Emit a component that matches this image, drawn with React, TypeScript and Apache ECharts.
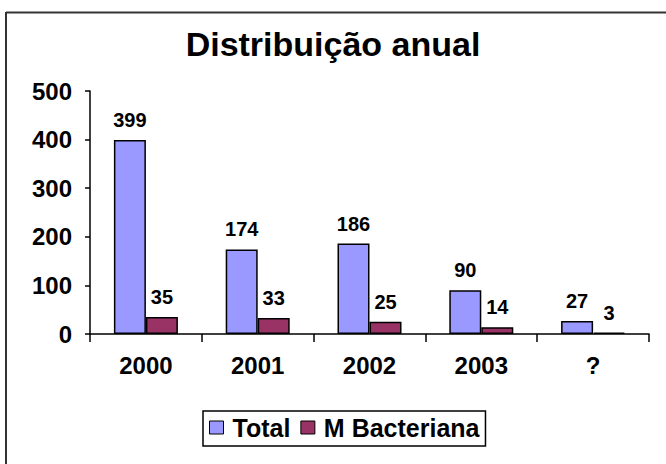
import React, { useEffect, useRef } from "react";
import * as echarts from "echarts";

const categories = ["2000", "2001", "2002", "2003", "?"];
const totalValues = [399, 174, 186, 90, 27];
const bacterianaValues = [35, 33, 25, 14, 3];
const seriesNames = ["Total", "M Bacteriana"];
const titleText = "Distribuição anual";

const FONT = "'Liberation Sans', Arial, sans-serif";

export default function App() {
  const ref = useRef<HTMLDivElement>(null);
  useEffect(() => {
    document.body.style.margin = "0";
    const chart = echarts.init(ref.current!, null, { renderer: "svg" });
    const label = {
      show: true,
      position: "top",
      distance: 10,
      color: "#000",
      fontFamily: FONT,
      fontWeight: "bold",
      fontSize: 20,
    };
    chart.setOption({
      animation: false,
      backgroundColor: "#fff",
      title: {
        text: titleText,
        left: "center",
        top: 22,
        textStyle: { fontFamily: FONT, fontWeight: "bold", fontSize: 34, color: "#000" },
      },
      legend: {
        left: 203,
        top: 411,
        padding: [4, 6, 6, 6],
        borderColor: "#000",
        borderWidth: 1.5,
        itemWidth: 14,
        itemHeight: 13,
        itemGap: 10,
        icon: "rect",
        textStyle: { fontFamily: FONT, fontWeight: "bold", fontSize: 25, color: "#000", padding: [0, 0, 0, 4] },
        itemStyle: { borderColor: "#000", borderWidth: 1 },
      },
      grid: { left: 90, right: 17, top: 91, bottom: 130, containLabel: false },
      xAxis: {
        type: "category",
        data: categories,
        axisLine: { lineStyle: { color: "#000", width: 1.5 } },
        axisTick: { show: true, length: 8, alignWithLabel: false, lineStyle: { color: "#000", width: 1.5 } },
        axisLabel: { margin: 19, color: "#000", fontFamily: FONT, fontWeight: "bold", fontSize: 24 },
      },
      yAxis: {
        type: "value",
        min: 0,
        max: 500,
        interval: 100,
        splitLine: { show: false },
        axisLine: { show: true, lineStyle: { color: "#000", width: 1.5 } },
        axisTick: { show: true, length: 5, lineStyle: { color: "#000", width: 1.5 } },
        axisLabel: { margin: 18, color: "#000", fontFamily: FONT, fontWeight: "bold", fontSize: 24 },
      },
      series: [
        {
          name: seriesNames[0],
          type: "bar",
          data: totalValues,
          barWidth: 32,
          barGap: "0%",
          itemStyle: { color: "#9999FF", borderColor: "#000", borderWidth: 1.5 },
          label,
        },
        {
          name: seriesNames[1],
          type: "bar",
          data: bacterianaValues,
          barWidth: 32,
          barGap: "0%",
          itemStyle: { color: "#993366", borderColor: "#000", borderWidth: 1.5 },
          label,
        },
      ],
      graphic: [
        { type: "line", shape: { x1: 6, y1: 12.5, x2: 666, y2: 12.5 }, style: { stroke: "#333", lineWidth: 2 } },
        { type: "line", shape: { x1: 6, y1: 12, x2: 6, y2: 464 }, style: { stroke: "#333", lineWidth: 2 } },
      ],
    });
    return () => chart.dispose();
  }, []);
  return <div ref={ref} style={{ width: 666, height: 464 }} />;
}
